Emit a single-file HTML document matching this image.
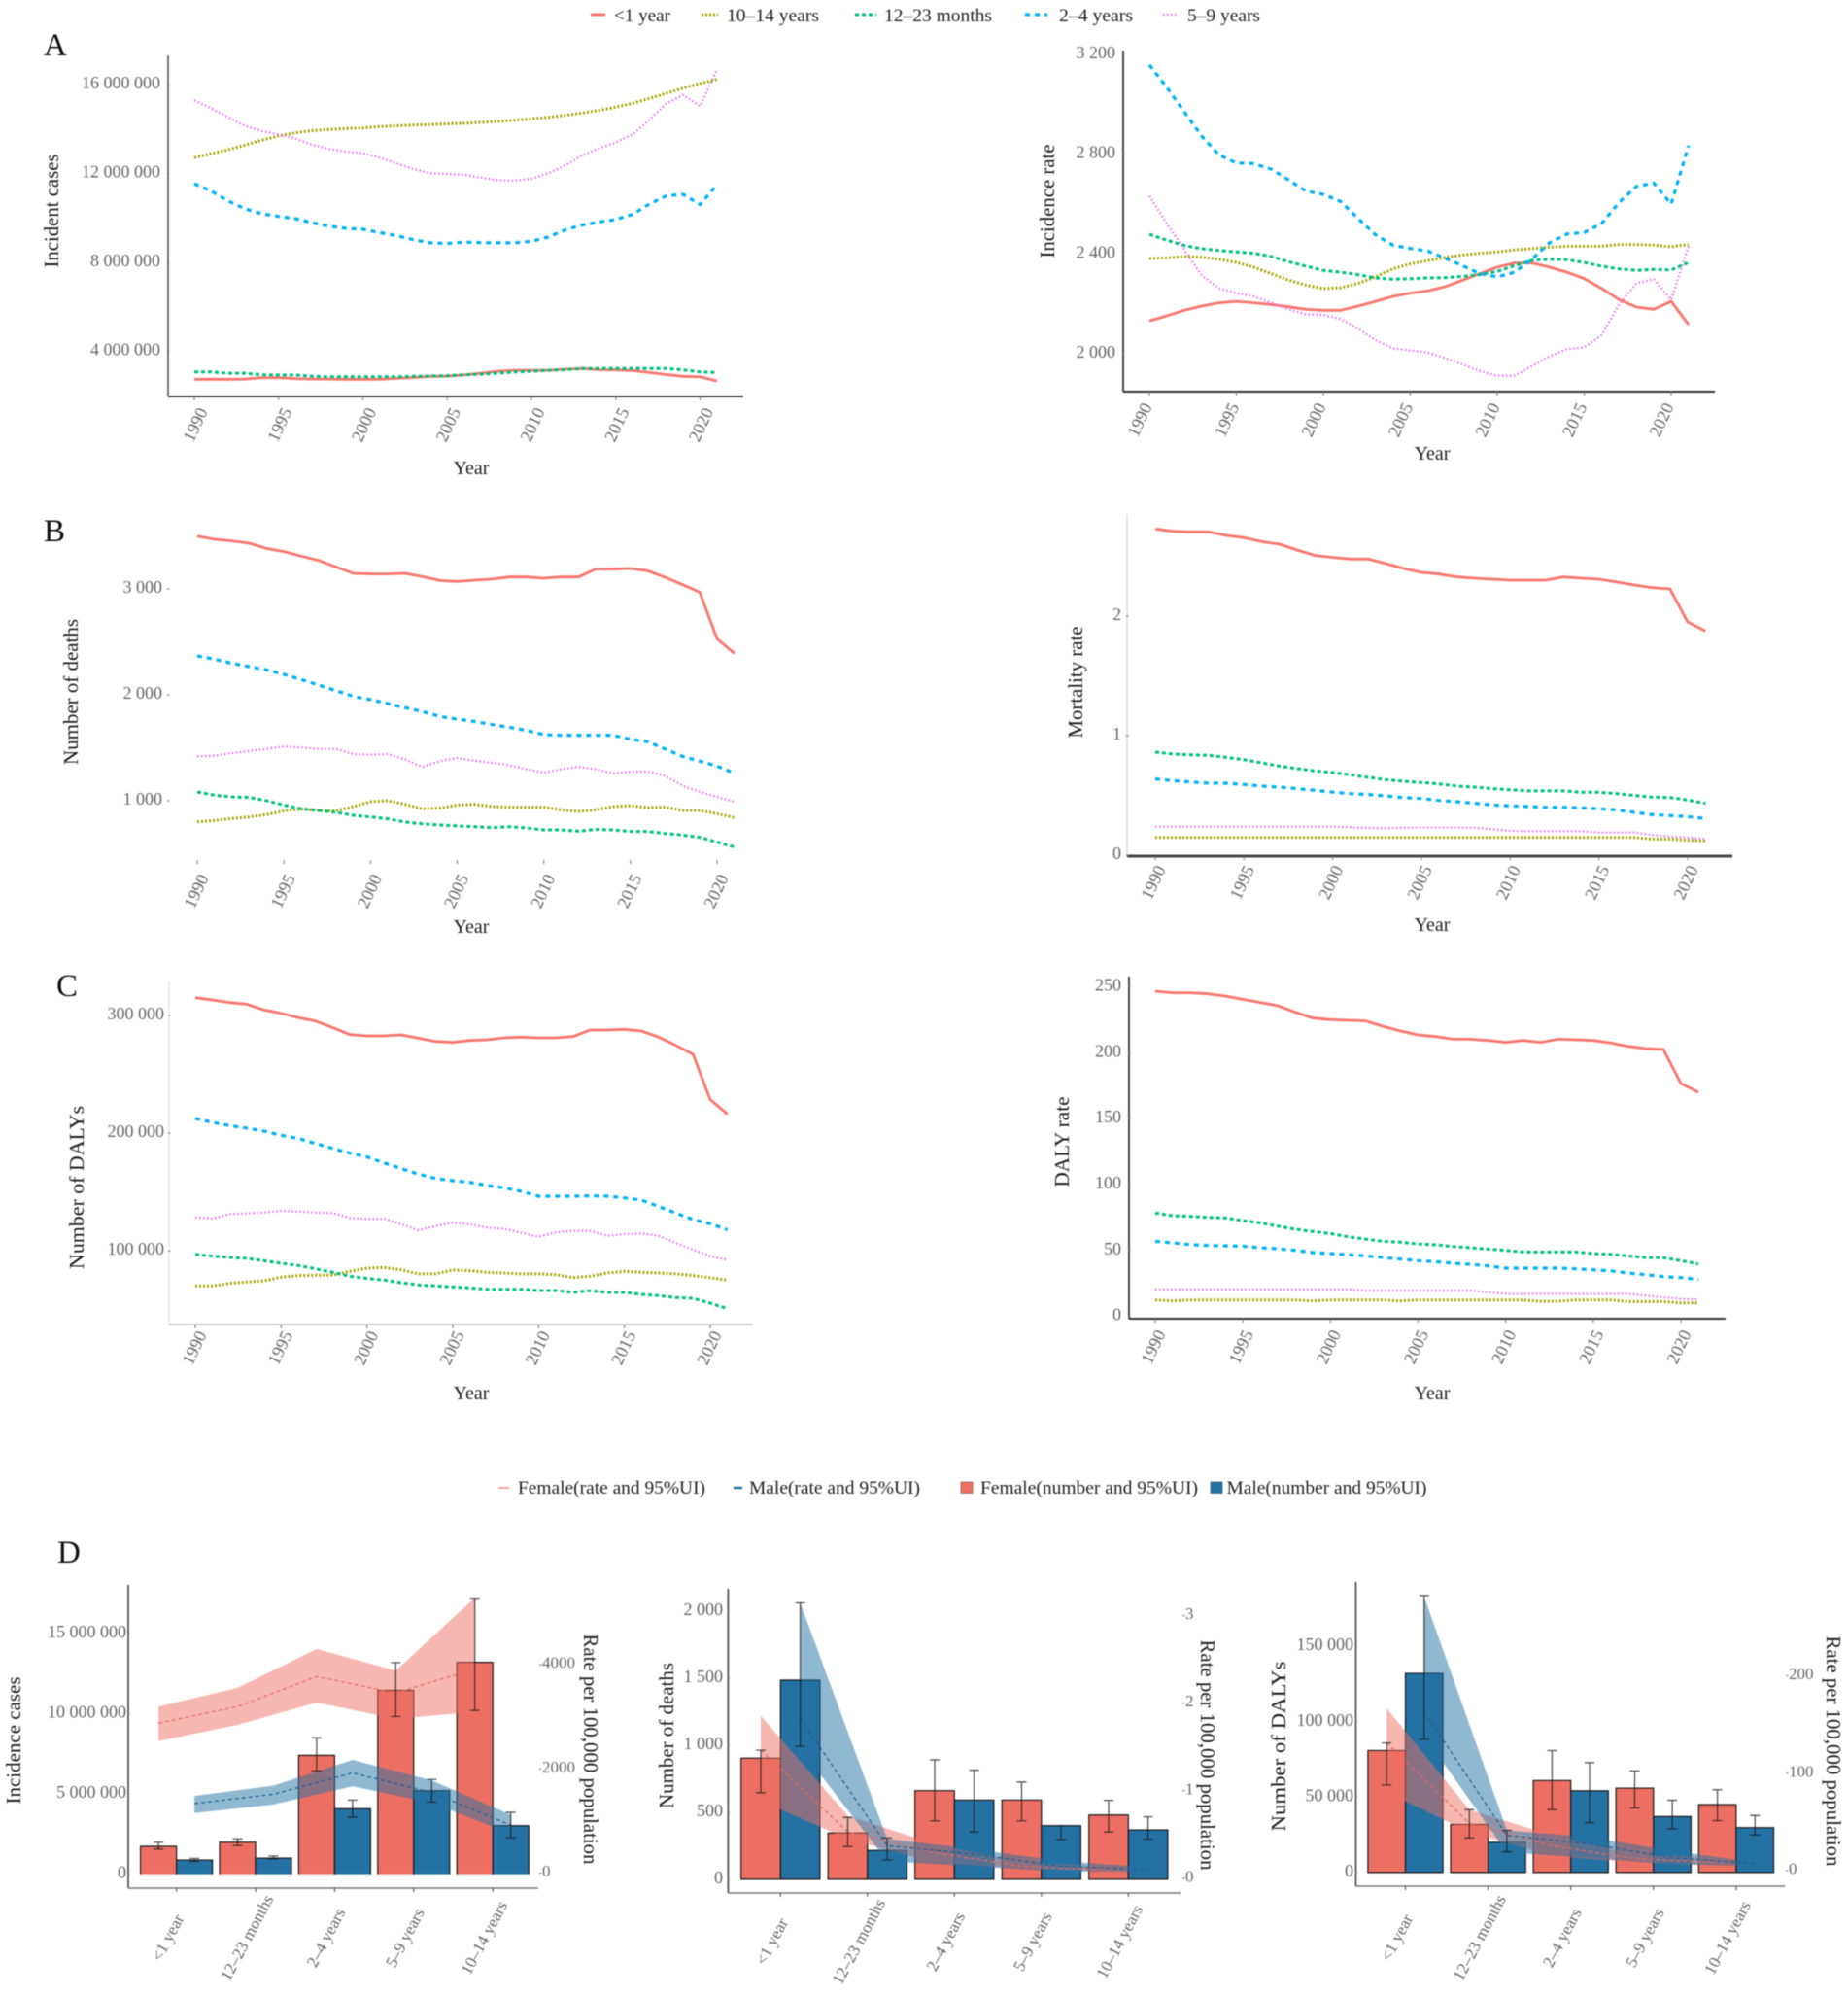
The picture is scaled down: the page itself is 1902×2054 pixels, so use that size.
<!DOCTYPE html>
<html lang="en">
<head>
<meta charset="utf-8">
<title>Age-group burden trends</title>
<style>
html,body{margin:0;padding:0;background:#fff;}
#figure{display:block;width:1902px;height:2054px;filter:blur(0.45px);font-family:"Liberation Serif",serif;}
text{font-family:"Liberation Serif",serif;}
.title{font-size:21px;fill:#1a1a1a;text-anchor:middle;}
.year{font-size:20px;fill:#222;text-anchor:middle;}
.letter{font-size:33px;fill:#111;}
.leg{font-size:19px;fill:#222;}
</style>
</head>
<body>
<svg id="figure" xmlns="http://www.w3.org/2000/svg" width="1902" height="2054" viewBox="0 0 1902 2054">
<rect x="0" y="0" width="1902" height="2054" fill="#fff"/>

<g>
<line x1="608" y1="15" x2="623" y2="15" stroke="#f8766d" stroke-width="3"/>
<text class="leg" x="632" y="22" textLength="58" lengthAdjust="spacingAndGlyphs">&lt;1 year</text>
<line x1="722" y1="15" x2="739" y2="15" stroke="#a3a500" stroke-width="3" stroke-dasharray="2 2"/>
<text class="leg" x="748" y="22" textLength="95" lengthAdjust="spacingAndGlyphs">10–14 years</text>
<line x1="880" y1="15" x2="902" y2="15" stroke="#00bf7d" stroke-width="3" stroke-dasharray="4 3"/>
<text class="leg" x="910" y="22" textLength="111" lengthAdjust="spacingAndGlyphs">12–23 months</text>
<line x1="1055" y1="15" x2="1078" y2="15" stroke="#00b0f6" stroke-width="3.2" stroke-dasharray="5 5"/>
<text class="leg" x="1090" y="22" textLength="76" lengthAdjust="spacingAndGlyphs">2–4 years</text>
<line x1="1197" y1="15" x2="1212" y2="15" stroke="#e76bf3" stroke-width="2.2" stroke-dasharray="1.5 2.5"/>
<text class="leg" x="1222" y="22" textLength="75" lengthAdjust="spacingAndGlyphs">5–9 years</text>
</g>

<text class="letter" x="45" y="57">A</text>
<text class="letter" x="45" y="557">B</text>
<text class="letter" x="58" y="1025">C</text>
<text class="letter" x="59" y="1608">D</text>

<text class="title" transform="translate(60,217) rotate(-90)" textLength="117" lengthAdjust="spacingAndGlyphs">Incident cases</text>
<text class="title" transform="translate(1085,207) rotate(-90)" textLength="117" lengthAdjust="spacingAndGlyphs">Incidence rate</text>
<text class="title" transform="translate(80,712) rotate(-90)" textLength="150" lengthAdjust="spacingAndGlyphs">Number of deaths</text>
<text class="title" transform="translate(1114,702) rotate(-90)" textLength="115" lengthAdjust="spacingAndGlyphs">Mortality rate</text>
<text class="title" transform="translate(86,1222) rotate(-90)" textLength="168" lengthAdjust="spacingAndGlyphs">Number of DALYs</text>
<text class="title" transform="translate(1100,1175) rotate(-90)" textLength="93" lengthAdjust="spacingAndGlyphs">DALY rate</text>

<text class="year" x="485" y="488">Year</text>
<text class="year" x="1474" y="473">Year</text>
<text class="year" x="485" y="960">Year</text>
<text class="year" x="1474" y="958">Year</text>
<text class="year" x="485" y="1440">Year</text>
<text class="year" x="1474" y="1440">Year</text>

<g>
<line x1="513" y1="1531" x2="524" y2="1531" stroke="#f4a59c" stroke-width="2"/>
<text class="leg" x="533" y="1537" textLength="193" lengthAdjust="spacingAndGlyphs">Female(rate and 95%UI)</text>
<line x1="755" y1="1531" x2="764" y2="1531" stroke="#2471a3" stroke-width="2.4"/>
<text class="leg" x="771" y="1537" textLength="176" lengthAdjust="spacingAndGlyphs">Male(rate and 95%UI)</text>
<rect x="989" y="1525" width="12" height="11.5" fill="#ed6f63" stroke="#7a4a44" stroke-width="0.6"/>
<text class="leg" x="1009" y="1537" textLength="224" lengthAdjust="spacingAndGlyphs">Female(number and 95%UI)</text>
<rect x="1246" y="1525" width="12" height="11.5" fill="#2471a3" stroke="#1b4a6b" stroke-width="0.6"/>
<text class="leg" x="1262.500" y="1537" textLength="206" lengthAdjust="spacingAndGlyphs">Male(number and 95%UI)</text>
</g>

<text class="title" transform="translate(21,1791) rotate(-90)" textLength="131" lengthAdjust="spacingAndGlyphs">Incidence cases</text>
<text class="title" transform="translate(601,1800) rotate(90)" textLength="237" lengthAdjust="spacingAndGlyphs">Rate per 100,000 population</text>
<text class="title" transform="translate(693,1786) rotate(-90)" textLength="150" lengthAdjust="spacingAndGlyphs">Number of deaths</text>
<text class="title" transform="translate(1236,1806) rotate(90)" textLength="237" lengthAdjust="spacingAndGlyphs">Rate per 100,000 population</text>
<text class="title" transform="translate(1323,1797) rotate(-90)" textLength="175" lengthAdjust="spacingAndGlyphs">Number of DALYs</text>
<text class="title" transform="translate(1880,1802) rotate(90)" textLength="237" lengthAdjust="spacingAndGlyphs">Rate per 100,000 population</text>

<g id="plots"></g>
</svg>

<script>
// ---------- shared categories ----------
const years = [1990,1991,1992,1993,1994,1995,1996,1997,1998,1999,2000,2001,2002,2003,2004,2005,2006,2007,2008,2009,2010,2011,2012,2013,2014,2015,2016,2017,2018,2019,2020,2021];
const yearTicks = [1990,1995,2000,2005,2010,2015,2020];
const ageCategories = ['<1 year','12–23 months','2–4 years','5–9 years','10–14 years'];

// ---------- A left: incident cases (millions) ----------
const casesTickValues = [16,12,8,4];
const casesTickLabels = ['16 000 000','12 000 000','8 000 000','4 000 000'];
const casesUnder1 = [2.75,2.75,2.75,2.76,2.82,2.82,2.78,2.76,2.76,2.75,2.75,2.75,2.79,2.83,2.88,2.89,2.94,3.02,3.11,3.15,3.15,3.15,3.20,3.23,3.18,3.17,3.14,3.05,2.96,2.88,2.86,2.67];
const cases10to14 = [12.72,12.90,13.08,13.29,13.51,13.70,13.84,13.94,13.99,14.03,14.06,14.12,14.15,14.19,14.21,14.24,14.27,14.31,14.35,14.41,14.47,14.54,14.63,14.73,14.85,15.00,15.17,15.39,15.62,15.85,16.06,16.25];
const cases12to23m = [3.08,3.08,3.02,3.02,2.95,2.94,2.94,2.88,2.86,2.86,2.86,2.86,2.86,2.88,2.89,2.91,2.95,2.98,3.02,3.08,3.11,3.15,3.18,3.23,3.23,3.23,3.23,3.23,3.23,3.17,3.08,3.05];
const cases2to4 = [11.55,11.22,10.78,10.42,10.20,10.08,9.98,9.79,9.64,9.54,9.50,9.35,9.21,9.03,8.89,8.86,8.92,8.90,8.89,8.89,8.96,9.15,9.47,9.69,9.83,9.94,10.17,10.64,11.00,11.07,10.61,11.51];
const cases5to9 = [15.30,14.94,14.54,14.16,13.92,13.77,13.58,13.30,13.11,13.00,12.92,12.72,12.46,12.21,12.02,11.99,11.95,11.83,11.71,11.69,11.77,12.02,12.38,12.82,13.14,13.41,13.77,14.43,15.15,15.55,15.04,16.69];

// ---------- A right: incidence rate ----------
const incRateTickValues = [3200,2800,2400,2000];
const incRateTickLabels = ['3 200','2 800','2 400','2 000'];
const incRateUnder1 = [2132,2152,2174,2191,2204,2210,2204,2197,2188,2178,2174,2174,2191,2210,2230,2243,2252,2269,2295,2321,2347,2364,2364,2347,2327,2301,2262,2217,2187,2178,2210,2117];
const incRate10to14 = [2382,2384,2390,2387,2379,2366,2347,2321,2295,2275,2262,2265,2282,2308,2340,2360,2373,2386,2396,2403,2408,2416,2421,2427,2431,2431,2431,2438,2438,2435,2429,2438];
const incRate12to23m = [2479,2455,2434,2421,2414,2408,2403,2390,2369,2351,2334,2327,2317,2304,2299,2301,2304,2305,2310,2317,2330,2353,2375,2379,2377,2366,2351,2340,2334,2338,2336,2366];
const incRate2to4 = [3158,3068,2970,2873,2797,2765,2762,2740,2697,2652,2639,2610,2542,2477,2435,2422,2412,2383,2353,2321,2308,2327,2379,2444,2480,2486,2522,2606,2671,2684,2600,2834];
const incRate5to9 = [2632,2522,2418,2314,2262,2243,2230,2204,2178,2158,2156,2139,2100,2055,2022,2013,2005,1983,1957,1931,1912,1912,1951,1990,2018,2026,2074,2197,2282,2299,2217,2431];

// ---------- B left: number of deaths ----------
const deathsTickValues = [3000,2000,1000];
const deathsTickLabels = ['3 000','2 000','1 000'];
const deathsUnder1 = [3498,3468,3453,3431,3382,3352,3309,3269,3208,3147,3141,3141,3147,3116,3080,3070,3083,3092,3113,3113,3101,3113,3113,3187,3187,3193,3171,3110,3040,2969,2529,2391];
const deaths10to14 = [801,814,832,847,869,905,921,908,905,945,991,1000,966,924,930,960,966,945,939,939,939,914,899,914,945,954,936,939,908,908,878,841];
const deaths12to23m = [1083,1052,1037,1031,1000,960,924,908,890,862,847,829,798,783,771,762,755,746,755,743,725,725,713,728,725,710,710,691,676,655,609,563];
const deaths2to4 = [2367,2336,2297,2266,2236,2193,2144,2092,2040,1985,1954,1917,1878,1841,1795,1771,1749,1719,1694,1664,1624,1618,1618,1618,1618,1581,1557,1489,1419,1373,1327,1260];
const deaths5to9 = [1419,1425,1450,1471,1489,1511,1502,1489,1489,1440,1434,1440,1388,1318,1373,1404,1379,1358,1336,1297,1266,1297,1321,1297,1257,1275,1275,1236,1144,1083,1037,991];

// ---------- B right: mortality rate ----------
const mortTickValues = [2,1,0];
const mortTickLabels = ['2','1','0'];
const mortUnder1 = [2.729,2.710,2.705,2.705,2.675,2.656,2.623,2.602,2.553,2.507,2.491,2.477,2.477,2.439,2.398,2.366,2.352,2.328,2.317,2.309,2.301,2.301,2.301,2.328,2.317,2.309,2.285,2.260,2.238,2.228,1.951,1.875];
const mort10to14 = [.149,.149,.149,.149,.149,.149,.149,.149,.149,.149,.149,.149,.149,.149,.149,.149,.149,.149,.149,.149,.149,.149,.149,.149,.149,.149,.149,.149,.135,.135,.125,.119];
const mort12to23m = [.862,.846,.840,.835,.818,.799,.772,.745,.724,.705,.691,.672,.650,.631,.618,.607,.596,.577,.569,.556,.547,.537,.537,.537,.526,.526,.515,.499,.485,.482,.461,.434];
const mort2to4 = [.637,.623,.612,.602,.602,.591,.577,.569,.556,.542,.528,.515,.507,.496,.482,.474,.458,.447,.434,.420,.412,.407,.401,.401,.396,.388,.379,.358,.339,.331,.322,.306];
const mort5to9 = [.238,.238,.238,.238,.238,.238,.238,.238,.238,.238,.238,.233,.228,.225,.23,.23,.23,.23,.23,.217,.203,.2,.2,.2,.2,.19,.19,.19,.168,.157,.146,.136];

// ---------- C left: number of DALYs (thousands) ----------
const dalyNumTickValues = [300,200,100];
const dalyNumTickLabels = ['300 000','200 000','100 000'];
const dalyNumUnder1 = [315.1,313.2,311.0,309.6,304.7,301.9,298.1,295.3,289.8,283.8,282.7,282.7,283.5,280.7,278.0,277.2,278.8,279.4,281.0,281.6,281.0,281.0,282.1,287.6,287.6,288.2,286.8,281.6,274.7,267.0,228.5,216.1];
const dalyNum10to14 = [70.3,70.3,72.5,73.6,74.7,77.7,79.1,79.4,79.4,82.7,85.4,86.0,84.0,80.5,80.5,83.8,83.2,81.8,81.3,80.5,80.5,79.9,77.4,78.5,81.3,82.7,81.8,81.3,80.5,79.1,77.2,75.2];
const dalyNum12to23m = [97.0,95.6,94.5,93.7,91.7,89.5,87.6,84.9,81.8,78.5,76.6,75.2,73.0,71.1,70.3,69.5,68.6,67.5,67.5,67.5,66.4,66.4,64.8,66.2,64.8,64.8,63.1,62.0,60.4,59.8,55.7,51.0];
const dalyNum2to4 = [212.5,209.2,206.5,204.3,201.8,198.2,195.5,191.3,187.2,183.1,179.8,174.8,169.9,165.2,161.6,159.7,158.3,155.6,153.6,150.6,146.5,146.5,146.5,146.8,146.5,145.1,143.2,137.7,132.2,126.7,123.1,117.9];
const dalyNum5to9 = [128.6,127.5,131.4,131.9,132.7,134.1,133.6,132.5,132.2,128.1,127.2,127.5,122.6,117.6,121.2,123.9,122.6,119.8,118.7,115.4,112.1,115.7,117.1,117.1,112.9,114.3,114.9,112.9,106.6,101.1,95.6,92.3];

// ---------- C right: DALY rate ----------
const dalyRateTickValues = [250,200,150,100,50,0];
const dalyRateTickLabels = ['250','200','150','100','50','0'];
const dalyRateUnder1 = [246.7,245.5,245.5,244.7,243.0,240.5,238.1,235.6,230.7,226.3,225.1,224.6,224.1,220.1,216.5,213.5,212.3,210.3,210.3,209.3,207.9,209.3,207.9,210.3,209.8,209.3,207.4,204.9,203.2,202.5,176.7,170.0];
const dalyRate10to14 = [12.5,11.8,12.5,12.5,12.5,12.5,12.5,12.5,12.5,11.8,12.5,12.5,12.5,12.5,11.8,12.5,12.5,12.5,12.5,12.5,12.5,12.5,11.5,11.5,12.5,12.5,12.5,11.3,11.3,11.3,10.3,10.3];
const dalyRate12to23m = [78.4,76.4,75.9,75.2,74.7,72.7,71.0,68.5,66.1,64.4,62.9,60.4,58.7,57.0,56.3,55.0,54.3,53.1,52.1,51.1,50.1,48.9,48.9,48.9,48.9,47.7,47.2,45.9,44.5,44.5,42.3,39.8];
const dalyRate2to4 = [57.0,55.8,54.5,53.8,53.6,53.3,52.1,51.4,50.1,48.4,47.7,46.9,45.9,44.7,43.5,42.3,41.5,40.3,39.6,38.3,36.6,36.6,36.6,36.6,36.1,35.4,34.6,32.9,31.7,30.2,29.5,28.0];
const dalyRate5to9 = [20.6,20.6,20.6,20.6,20.6,20.6,20.6,20.6,20.6,20.6,20.6,20.6,19.7,19.7,19.7,19.7,19.7,19.7,19.7,18.2,17.2,17.2,17.2,17.2,17.2,17.2,17.2,17.2,15.7,14.5,13.3,12.8];

// ---------- D left: incidence by age and sex (millions; rate per 100k) ----------
const dIncTickValues = [15,10,5,0];
const dIncTickLabels = ['15 000 000','10 000 000','5 000 000','0'];
const dIncRateTickValues = [4000,2000,0];
const dIncRateTickLabels = ['4000','2000','0'];
const dIncFemale = [1.73,1.99,7.40,11.45,13.20];
const dIncFemaleLo = [1.56,1.78,6.44,9.82,10.20];
const dIncFemaleHi = [1.99,2.20,8.50,13.18,17.20];
const dIncMale = [0.88,1.00,4.07,5.20,3.02];
const dIncMaleLo = [0.79,0.95,3.55,4.49,2.27];
const dIncMaleHi = [0.98,1.13,4.62,5.90,3.85];
const dIncFemaleRate = [2879,3195,3775,3458,3920];
const dIncFemaleRateLo = [2536,2846,3274,2964,3096];
const dIncFemaleRateHi = [3195,3557,4302,3887,5283];
const dIncMaleRate = [1337,1515,1924,1548,922];
const dIncMaleRateLo = [1153,1318,1667,1350,758];
const dIncMaleRateHi = [1482,1680,2174,1779,1120];

// ---------- D middle: deaths by age and sex ----------
const dDeathTickValues = [2000,1500,1000,500,0];
const dDeathTickLabels = ['2 000','1 500','1 000','500','0'];
const dDeathRateTickValues = [3,2,1,0];
const dDeathRateTickLabels = ['3','2','1','0'];
const dDeathFemale = [905,346,662,592,480];
const dDeathFemaleLo = [646,244,436,436,354];
const dDeathFemaleHi = [964,462,892,726,590];
const dDeathMale = [1487,215,592,400,369];
const dDeathMaleLo = [992,144,354,297,300];
const dDeathMaleHi = [2064,310,815,400,467];
const dDeathFemaleRate = [1.463,.529,.294,.137,.098];
const dDeathFemaleRateLo = [.882,.451,.176,.110,.078];
const dDeathFemaleRateHi = [1.855,.714,.392,.184,.137];
const dDeathMaleRate = [1.824,.373,.275,.137,.098];
const dDeathMaleRateLo = [1.482,.196,.137,.078,.078];
const dDeathMaleRateHi = [3.145,.451,.333,.196,.129];

// ---------- D right: DALYs by age and sex (thousands) ----------
const dDalyTickValues = [150,100,50,0];
const dDalyTickLabels = ['150 000','100 000','50 000','0'];
const dDalyRateTickValues = [200,100,0];
const dDalyRateTickLabels = ['200','100','0'];
const dDalyFemale = [80.9,31.9,61.0,56.0,45.1];
const dDalyFemaleLo = [58.0,23.0,41.7,42.8,34.4];
const dDalyFemaleHi = [86.0,41.7,80.9,67.4,54.9];
const dDalyMale = [132.1,20.0,54.2,37.1,29.8];
const dDalyMaleLo = [88.4,13.7,33.0,29.0,25.0];
const dDalyMaleHi = [183.8,28.0,72.9,48.0,37.8];
const dDalyFemaleRate = [131.3,48.6,25.7,12.3,8.8];
const dDalyFemaleRateLo = [80.3,39.8,15.1,8.8,5.3];
const dDalyFemaleRateHi = [166.5,62.7,36.3,16.9,13.4];
const dDalyMaleRate = [163.0,36.3,27.5,13.4,7.4];
const dDalyMaleRateLo = [138.4,18.7,13.4,6.3,5.3];
const dDalyMaleRateHi = [281.0,41.5,34.5,20.4,8.8];

// ---------- helpers ----------
const NS = 'http://www.w3.org/2000/svg';
const plots = document.getElementById('plots');
function el(tag, attrs, parent) {
  const n = document.createElementNS(NS, tag);
  for (const k in attrs) n.setAttribute(k, attrs[k]);
  parent.appendChild(n);
  return n;
}
function linear(v0, p0, v1, p1) {
  return v => p0 + (v - v0) * (p1 - p0) / (v1 - v0);
}
const seriesStyles = {
  under1: {color:'#f8766d', width:2.8, dash:'none'},
  a10to14: {color:'#a3a500', width:3, dash:'2 2'},
  m12to23: {color:'#00bf7d', width:3, dash:'4 3'},
  a2to4: {color:'#00b0f6', width:3.2, dash:'5 5'},
  a5to9: {color:'#e76bf3', width:2.2, dash:'1.5 2.5'}
};

function drawAxisLine(parent, name, x1, y1, x2, y2, color, width) {
  const l = el('line', {x1, y1, x2, y2, stroke: color, 'stroke-width': width}, parent);
  
  
}

function drawYTicks(parent, name, values, labels, yScale, tickX, labelX, anchor, size) {
  values.forEach((v, i) => {
    const y = yScale(v);
    const t = el('line', {x1: tickX, x2: tickX + 2.5, y1: y, y2: y, stroke: '#777', 'stroke-width': 1}, parent);
    
    
    const lab = el('text', {x: labelX, y: y - 2, 'font-size': size, fill: '#666', 'text-anchor': anchor, dy: '.33em'}, parent);
    
    
    lab.textContent = labels[i];
  });
}

function drawLineChart(c) {
  const g = el('g', {}, plots);
  
  
  const x = linear(1990, c.x1990, 2020, c.x2020);
  const y = linear(c.vA, c.yA, c.vB, c.yB);
  if (c.yAxis) drawAxisLine(g, 'y-axis-line', c.axisX, c.axisTop, c.axisX, c.axisY, c.yAxis.color, c.yAxis.width);
  if (c.xAxis) drawAxisLine(g, 'x-axis-line', c.axisX, c.axisY, c.axisEnd, c.axisY, c.xAxis.color, c.xAxis.width);
  drawYTicks(g, 'y-axis', c.tickValues, c.tickLabels, y, c.axisX - 1, c.labelRight, 'end', 18);
  yearTicks.forEach(yr => {
    const tx = x(yr);
    const t = el('line', {x1: tx, x2: tx, y1: c.axisY, y2: c.axisY + 4, stroke: '#777', 'stroke-width': 1}, g);
    
    
    const cx = tx + c.labelDx, cy = c.labelY;
    const lab = el('text', {'font-size': 18, fill: '#666', 'text-anchor': 'middle', dy: '.33em', transform: 'translate(' + cx + ',' + cy + ') rotate(-65)'}, g);
    
    
    lab.textContent = yr;
  });
  c.series.forEach(s => {
    const st = seriesStyles[s.key];
    const d = years.map((yr, i) => (i ? 'L' : 'M') + x(yr).toFixed(1) + ' ' + y(s.values[i]).toFixed(1)).join('');
    const p = el('path', {d, fill: 'none', stroke: st.color, 'stroke-width': st.width, 'stroke-dasharray': st.dash}, g);
    
    
  });
}

function outline(g, x, y, w, h, bottom) {
  let d = 'M' + x + ' ' + h + 'L' + x + ' ' + y + 'L' + (x + w) + ' ' + y + 'L' + (x + w) + ' ' + h;
  if (bottom) d += 'Z';
  const o = el('path', {d, fill: 'none', stroke: '#1a1a1a', 'stroke-width': 1.2}, g);
  
  
}

function drawCombo(c) {
  const g = el('g', {}, plots);
  
  
  const yL = linear(c.vL0, c.yL0, c.vL1, c.yL1);
  const yR = linear(c.vR0, c.yR0, c.vR1, c.yR1);
  const xc = i => c.cx0 + i * c.step;
  const fx = i => xc(i) - c.barW / 2;
  const mx = i => xc(i) + c.barW / 2;

  drawAxisLine(g, 'y-axis-line', c.axisX, c.axisTop, c.axisX, c.axisY, '#444', 1.6);
  drawAxisLine(g, 'x-axis-line', c.axisX, c.axisY, c.axisEnd, c.axisY, '#777', 1.5);
  drawYTicks(g, 'left-axis', c.tickValues, c.tickLabels, yL, c.axisX - 1, c.labelRight, 'end', 18);
  drawYTicks(g, 'right-axis', c.rateTickValues, c.rateTickLabels, yR, c.rateLabelLeft - 3, c.rateLabelLeft, 'start', 17);

  ageCategories.forEach((name, i) => {
    const t = el('line', {x1: xc(i), x2: xc(i), y1: c.axisY, y2: c.axisY + 4, stroke: '#444', 'stroke-width': 1}, g);
    
    
    const lab = el('text', {'font-size': 17, fill: '#666', 'text-anchor': 'middle', dy: '.33em', transform: 'translate(' + (xc(i) - 9) + ',' + c.labelY + ') rotate(-62)'}, g);
    
    
    lab.textContent = name;
  });

  const base = yL(0);
  const drawBars = (values, xf, color, label) => {
    values.forEach((v, i) => {
      const x = xf(i) - c.barW / 2, top = yL(v);
      const r = el('rect', {x, y: top, width: c.barW, height: base - top, fill: color}, g);
      
      
      outline(g, x, top, c.barW, base, c.barBottom);
    });
  };
  drawBars(c.female, fx, '#ed6f63', 'bar-female');
  drawBars(c.male, mx, '#2471a3', 'bar-male');

  const drawBand = (lo, hi, xf, color, label) => {
    const up = hi.map((v, i) => xf(i).toFixed(1) + ',' + yR(v).toFixed(1));
    const dn = lo.map((v, i) => xf(i).toFixed(1) + ',' + yR(v).toFixed(1)).reverse();
    const b = el('polygon', {points: up.concat(dn).join(' '), fill: color, 'fill-opacity': .5}, g);
    
    
  };
  drawBand(c.femaleRateLo, c.femaleRateHi, fx, '#ed6f63', 'rate-band-female');
  drawBand(c.maleRateLo, c.maleRateHi, mx, '#2471a3', 'rate-band-male');

  const drawRate = (vals, xf, color, label) => {
    const d = vals.map((v, i) => (i ? 'L' : 'M') + xf(i).toFixed(1) + ' ' + yR(v).toFixed(1)).join('');
    const p = el('path', {d, fill: 'none', stroke: color, 'stroke-width': 1.2, 'stroke-dasharray': '4 3'}, g);
    
    
  };
  drawRate(c.femaleRate, fx, '#ea6a5e', 'rate-line-female');
  drawRate(c.maleRate, mx, '#1f5f8e', 'rate-line-male');

  const drawErr = (lo, hi, xf, label) => {
    lo.forEach((v, i) => {
      const x = xf(i), a = yL(v), b = yL(hi[i]);
      const d = 'M' + x + ' ' + a + 'L' + x + ' ' + b + 'M' + (x - 5) + ' ' + a + 'L' + (x + 5) + ' ' + a + 'M' + (x - 5) + ' ' + b + 'L' + (x + 5) + ' ' + b;
      const e = el('path', {d, fill: 'none', stroke: '#1a1a1a', 'stroke-width': 1.2, 'stroke-opacity': .8}, g);
      
      
    });
  };
  drawErr(c.femaleLo, c.femaleHi, fx, 'error-bar-female');
  drawErr(c.maleLo, c.maleHi, mx, 'error-bar-male');
}

// ---------- draw ----------
drawLineChart({name:'chart-incident-cases', x1990:200, x2020:720.5, vA:16, yA:87.3, vB:4, yB:361.7,
  axisX:173, axisTop:57, axisY:408, axisEnd:765, labelRight:165, labelDx:1, labelY:437,
  yAxis:{color:'#555',width:1.6}, xAxis:{color:'#444',width:2},
  tickValues:casesTickValues, tickLabels:casesTickLabels,
  series:[{key:'under1',values:casesUnder1},{key:'a10to14',values:cases10to14},{key:'m12to23',values:cases12to23m},{key:'a2to4',values:cases2to4},{key:'a5to9',values:cases5to9}]});
drawLineChart({name:'chart-incidence-rate', x1990:1183, x2020:1720, vA:3200, yA:56, vB:2000, yB:364,
  axisX:1156, axisTop:52, axisY:403, axisEnd:1765, labelRight:1148, labelDx:-10, labelY:432,
  yAxis:{color:'#333',width:1.8}, xAxis:{color:'#333',width:2},
  tickValues:incRateTickValues, tickLabels:incRateTickLabels,
  series:[{key:'under1',values:incRateUnder1},{key:'a10to14',values:incRate10to14},{key:'m12to23',values:incRate12to23m},{key:'a2to4',values:incRate2to4},{key:'a5to9',values:incRate5to9}]});
drawLineChart({name:'chart-number-of-deaths', x1990:203, x2020:738, vA:3000, yA:606, vB:1000, yB:824,
  axisX:173, axisTop:529, axisY:885, axisEnd:770, labelRight:167, labelDx:-1, labelY:917,
  yAxis:null, xAxis:null,
  tickValues:deathsTickValues, tickLabels:deathsTickLabels,
  series:[{key:'under1',values:deathsUnder1},{key:'a10to14',values:deaths10to14},{key:'m12to23',values:deaths12to23m},{key:'a2to4',values:deaths2to4},{key:'a5to9',values:deaths5to9}]});
drawLineChart({name:'chart-mortality-rate', x1990:1189, x2020:1737, vA:0, yA:880, vB:2, yB:634,
  axisX:1160, axisTop:529, axisY:881, axisEnd:1783, labelRight:1154, labelDx:-2, labelY:908,
  yAxis:{color:'#ddd',width:1.6}, xAxis:{color:'#444',width:3},
  tickValues:mortTickValues, tickLabels:mortTickLabels,
  series:[{key:'under1',values:mortUnder1},{key:'a10to14',values:mort10to14},{key:'m12to23',values:mort12to23m},{key:'a2to4',values:mort2to4},{key:'a5to9',values:mort5to9}]});
drawLineChart({name:'chart-number-of-dalys', x1990:201, x2020:731, vA:300, yA:1045, vB:100, yB:1287.3,
  axisX:174, axisTop:1010, axisY:1363, axisEnd:775, labelRight:169, labelDx:-1, labelY:1387,
  yAxis:{color:'#e6e6e6',width:1.5}, xAxis:{color:'#ccc',width:2},
  tickValues:dalyNumTickValues, tickLabels:dalyNumTickLabels,
  series:[{key:'under1',values:dalyNumUnder1},{key:'a10to14',values:dalyNum10to14},{key:'m12to23',values:dalyNum12to23m},{key:'a2to4',values:dalyNum2to4},{key:'a5to9',values:dalyNum5to9}]});
drawLineChart({name:'chart-daly-rate', x1990:1189, x2020:1730, vA:0, yA:1354.7, vB:250, yB:1015.5,
  axisX:1162, axisTop:1005, axisY:1357, axisEnd:1776, labelRight:1154, labelDx:-2, labelY:1386,
  yAxis:{color:'#333',width:1.8}, xAxis:{color:'#333',width:2},
  tickValues:dalyRateTickValues, tickLabels:dalyRateTickLabels,
  series:[{key:'under1',values:dalyRateUnder1},{key:'a10to14',values:dalyRate10to14},{key:'m12to23',values:dalyRate12to23m},{key:'a2to4',values:dalyRate2to4},{key:'a5to9',values:dalyRate5to9}]});

drawCombo({name:'chart-incidence-by-age-sex', cx0:181.6, step:81.4, barW:37, barBottom:false,
  vL0:0, yL0:1928.6, vL1:15, yL1:1680.9, vR0:0, yR0:1927.6, vR1:4000, yR1:1713.1,
  axisX:132, axisTop:1631, axisY:1943, axisEnd:554, labelRight:130, rateLabelLeft:558, labelY:1994,
  tickValues:dIncTickValues, tickLabels:dIncTickLabels, rateTickValues:dIncRateTickValues, rateTickLabels:dIncRateTickLabels,
  female:dIncFemale, femaleLo:dIncFemaleLo, femaleHi:dIncFemaleHi, male:dIncMale, maleLo:dIncMaleLo, maleHi:dIncMaleHi,
  femaleRate:dIncFemaleRate, femaleRateLo:dIncFemaleRateLo, femaleRateHi:dIncFemaleRateHi,
  maleRate:dIncMaleRate, maleRateLo:dIncMaleRateLo, maleRateHi:dIncMaleRateHi});
drawCombo({name:'chart-deaths-by-age-sex', cx0:803.3, step:89.5, barW:40.6, barBottom:true,
  vL0:0, yL0:1933.9, vL1:2000, yL1:1658.3, vR0:0, yR0:1932.9, vR1:3, yR1:1662.5,
  axisX:749.4, axisTop:1635, axisY:1948, axisEnd:1215, labelRight:744, rateLabelLeft:1220, labelY:1998,
  tickValues:dDeathTickValues, tickLabels:dDeathTickLabels, rateTickValues:dDeathRateTickValues, rateTickLabels:dDeathRateTickLabels,
  female:dDeathFemale, femaleLo:dDeathFemaleLo, femaleHi:dDeathFemaleHi, male:dDeathMale, maleLo:dDeathMaleLo, maleHi:dDeathMaleHi,
  femaleRate:dDeathFemaleRate, femaleRateLo:dDeathFemaleRateLo, femaleRateHi:dDeathFemaleRateHi,
  maleRate:dDeathMaleRate, maleRateLo:dDeathMaleRateLo, maleRateHi:dDeathMaleRateHi});
drawCombo({name:'chart-dalys-by-age-sex', cx0:1446.5, step:85.1, barW:38.6, barBottom:true,
  vL0:0, yL0:1926.9, vL1:150, yL1:1694.3, vR0:0, yR0:1925.1, vR1:200, yR1:1724.4,
  axisX:1395.5, axisTop:1628, axisY:1941, axisEnd:1837.5, labelRight:1393, rateLabelLeft:1841, labelY:1994,
  tickValues:dDalyTickValues, tickLabels:dDalyTickLabels, rateTickValues:dDalyRateTickValues, rateTickLabels:dDalyRateTickLabels,
  female:dDalyFemale, femaleLo:dDalyFemaleLo, femaleHi:dDalyFemaleHi, male:dDalyMale, maleLo:dDalyMaleLo, maleHi:dDalyMaleHi,
  femaleRate:dDalyFemaleRate, femaleRateLo:dDalyFemaleRateLo, femaleRateHi:dDalyFemaleRateHi,
  maleRate:dDalyMaleRate, maleRateLo:dDalyMaleRateLo, maleRateHi:dDalyMaleRateHi});
</script>
</body>
</html>
